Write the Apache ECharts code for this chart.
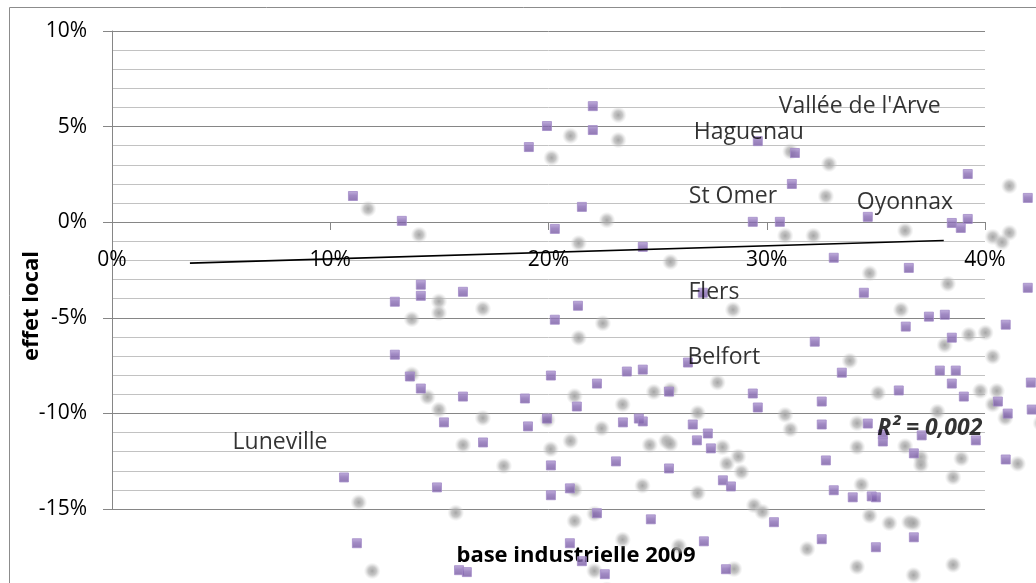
<!DOCTYPE html>
<html>
<head>
<meta charset="utf-8">
<title>effet local vs base industrielle 2009</title>
<script src="https://cdn.jsdelivr.net/npm/echarts@6/dist/echarts.min.js"></script>
<style>
  html, body { margin: 0; padding: 0; background: #fff; }
  #chart { width: 1036px; height: 583px; }
</style>
</head>
<body>
<div id="chart"></div>
<script>
// base industrielle 2009 (%), x
var baseIndustrielle = [
  11.04, 13.28, 19.10, 19.93, 22.03, 22.03, 20.29, 21.53, 24.32, 29.59, 31.29, 31.15, 39.21, 41.96, 29.36, 30.60, 34.63, 38.48, 39.21, 38.89,
  33.07, 36.51, 41.96, 27.07, 34.45, 37.43, 38.16, 36.37, 40.95, 38.48, 32.20, 26.39, 33.44, 37.93, 38.66, 38.48, 42.10, 36.05, 29.36,
  14.15, 14.15, 12.96, 16.08, 21.35, 20.29, 12.96, 13.65, 14.15, 20.11, 22.22, 23.59, 24.32, 25.52, 16.08, 18.92, 21.30, 19.93, 15.21, 19.06,
  23.41, 24.14, 24.32, 26.61, 26.80, 17.00, 20.11, 23.09, 25.52, 14.89, 20.11, 20.98, 22.22, 24.69, 11.22, 20.98, 15.90, 16.26, 21.53, 22.58, 10.63,
  39.03, 40.59, 32.52, 29.59, 42.14, 41.04, 32.52, 34.63, 27.30, 35.32, 35.32, 37.10, 39.58, 27.44, 36.74, 32.71, 40.95, 27.99, 28.36, 33.07,
  33.94, 34.81, 35.00, 30.33, 27.12, 32.52, 36.74, 35.00, 28.13
]
// effet local (%), y
var effetLocal = [
  1.37, 0.07, 3.93, 5.03, 6.07, 4.82, -0.35, 0.80, -1.29, 4.24, 3.62, 2.00, 2.52, 1.27, 0.02, 0.02, 0.28, -0.04, 0.17, -0.30,
  -1.86, -2.39, -3.43, -3.69, -3.69, -4.94, -4.84, -5.46, -5.36, -6.04, -6.25, -7.34, -7.87, -7.76, -7.76, -8.44, -8.39, -8.80, -8.96,
  -3.27, -3.85, -4.16, -3.64, -4.37, -5.10, -6.93, -8.07, -8.70, -8.02, -8.44, -7.81, -7.71, -8.86, -9.12, -9.22, -9.64, -10.27, -10.47, -10.68,
  -10.47, -10.27, -10.42, -10.58, -11.41, -11.52, -12.72, -12.51, -12.88, -13.87, -14.28, -13.92, -15.22, -15.54, -16.79, -16.79, -18.20, -18.30, -17.73, -18.41, -13.35,
  -9.12, -9.38, -9.38, -9.69, -9.80, -10.01, -10.58, -10.53, -11.05, -11.10, -11.47, -11.15, -11.41, -11.83, -12.09, -12.46, -12.41, -13.50, -13.82, -14.02,
  -14.39, -14.34, -14.39, -15.69, -16.69, -16.58, -16.48, -17.00, -18.15
]

// linear trendline end points
var trendX = [3.57, 38.11]
var trendY = [-2.14, -0.96]

// city labels
var villes = ["Vallée de l'Arve", 'Haguenau', 'St Omer', 'Oyonnax', 'Flers', 'Belfort', 'Luneville']
var villesX = [34.26, 29.18, 28.45, 36.33, 27.58, 28.03, 7.70]
var villesY = [6.07, 4.71, 1.37, 1.01, -3.70, -7.10, -11.52]

var r2Text = 'R² = 0,002'
var r2Pos = [37.47, -10.79]

var FONT = '"Open Sans", "DejaVu Sans", sans-serif'

var points = baseIndustrielle.map(function(x, i) {
  return [x, effetLocal[i]]
})
var trend = trendX.map(function(x, i) {
  return [x, trendY[i]]
})
var labelData = villes.map(function(n, i) {
  return [villesX[i], villesY[i], n]
})

var chart = echarts.init(document.getElementById('chart'))

chart.setOption({
  backgroundColor: '#fff',
  animation: false,
  grid: {
    left: 112,
    right: 51,
    top: 31,
    bottom: 74
  },
  xAxis: {
    type: 'value',
    min: 0,
    max: 40,
    interval: 10,
    // the axis sits on the 0% line (15% of a 25% span above the bottom)
    offset: -287,
    axisLine: { show: true, onZero: false, lineStyle: { color: '#868686', width: 1 }},
    axisTick: { show: true, length: 8, lineStyle: { color: '#868686' }},
    axisLabel: {
      formatter: '{value}%',
      color: '#000',
      fontSize: 21,
      fontFamily: FONT,
      margin: 28
    },
    splitLine: { show: false }
  },
  yAxis: {
    type: 'value',
    min: -15,
    max: 10,
    interval: 5,
    axisLine: { show: true, lineStyle: { color: '#868686', width: 1 }},
    axisTick: { show: true, length: 9, lineStyle: { color: '#868686' }},
    axisLabel: {
      formatter: '{value}%',
      color: '#000',
      fontSize: 21,
      fontFamily: FONT,
      margin: 25
    },
    splitLine: { show: true, lineStyle: { color: '#868686', width: 1 }},
    minorTick: { show: false, splitNumber: 5 },
    minorSplitLine: { show: true, lineStyle: { color: '#c2c2c2', width: 1 }}
  },
  graphic: [
    {
      type: 'rect',
      silent: true,
      z: -10,
      shape: { x: 9.5, y: 7.5, width: 1100, height: 700 },
      style: { fill: 'none', stroke: '#8c8c8c', lineWidth: 1 }
    },
    {
      type: 'text',
      x: 32,
      y: 306,
      rotation: Math.PI / 2,
      style: {
        text: 'effet local',
        font: 'bold 22px ' + FONT,
        fill: '#000',
        align: 'center',
        verticalAlign: 'middle'
      }
    },
    {
      type: 'text',
      x: 576,
      y: 556,
      style: {
        text: 'base industrielle 2009',
        font: 'bold 22px ' + FONT,
        fill: '#000',
        align: 'center',
        verticalAlign: 'middle'
      }
    }
  ],
  series: [
    {
      // soft perspective shadow under each marker
      type: 'custom',
      z: 1,
      clip: false,
      silent: true,
      data: points,
      renderItem: function(params, api) {
        var p = api.coord([api.value(0), api.value(1)])
        var sx = p[0] * 1.043
        var sy = p[1] * 1.043 + 4.4
        return {
          type: 'circle',
          shape: { cx: sx, cy: sy, r: 8.5 },
          style: {
            fill: new echarts.graphic.RadialGradient(0.5, 0.5, 0.5, [
              { offset: 0, color: 'rgba(160,160,160,0.95)' },
              { offset: 0.5, color: 'rgba(175,175,175,0.7)' },
              { offset: 1, color: 'rgba(210,210,210,0)' }
            ])
          }
        }
      }
    },
    {
      type: 'scatter',
      z: 3,
      clip: false,
      symbol: 'rect',
      symbolSize: 9,
      data: points,
      itemStyle: {
        color: new echarts.graphic.LinearGradient(0, 0, 0, 1, [
          { offset: 0, color: '#b29cd4' },
          { offset: 0.45, color: '#8a6db5' },
          { offset: 1, color: '#7557a0' }
        ]),
        borderColor: '#a48cc8',
        borderWidth: 1
      }
    },
    {
      type: 'line',
      z: 4,
      data: trend,
      showSymbol: false,
      lineStyle: { color: '#000', width: 1.6 }
    },
    {
      type: 'scatter',
      z: 5,
      clip: false,
      symbolSize: 0,
      data: labelData,
      label: {
        show: true,
        position: 'inside',
        formatter: function(p) { return p.data[2] },
        color: '#000',
        fontSize: 23,
        fontFamily: FONT
      }
    },
    {
      type: 'scatter',
      z: 5,
      clip: false,
      symbolSize: 0,
      data: [r2Pos],
      label: {
        show: true,
        position: 'inside',
        formatter: r2Text,
        color: '#000',
        fontSize: 23,
        fontWeight: 'bold',
        fontStyle: 'italic',
        fontFamily: FONT
      }
    }
  ]
})
</script>
</body>
</html>
